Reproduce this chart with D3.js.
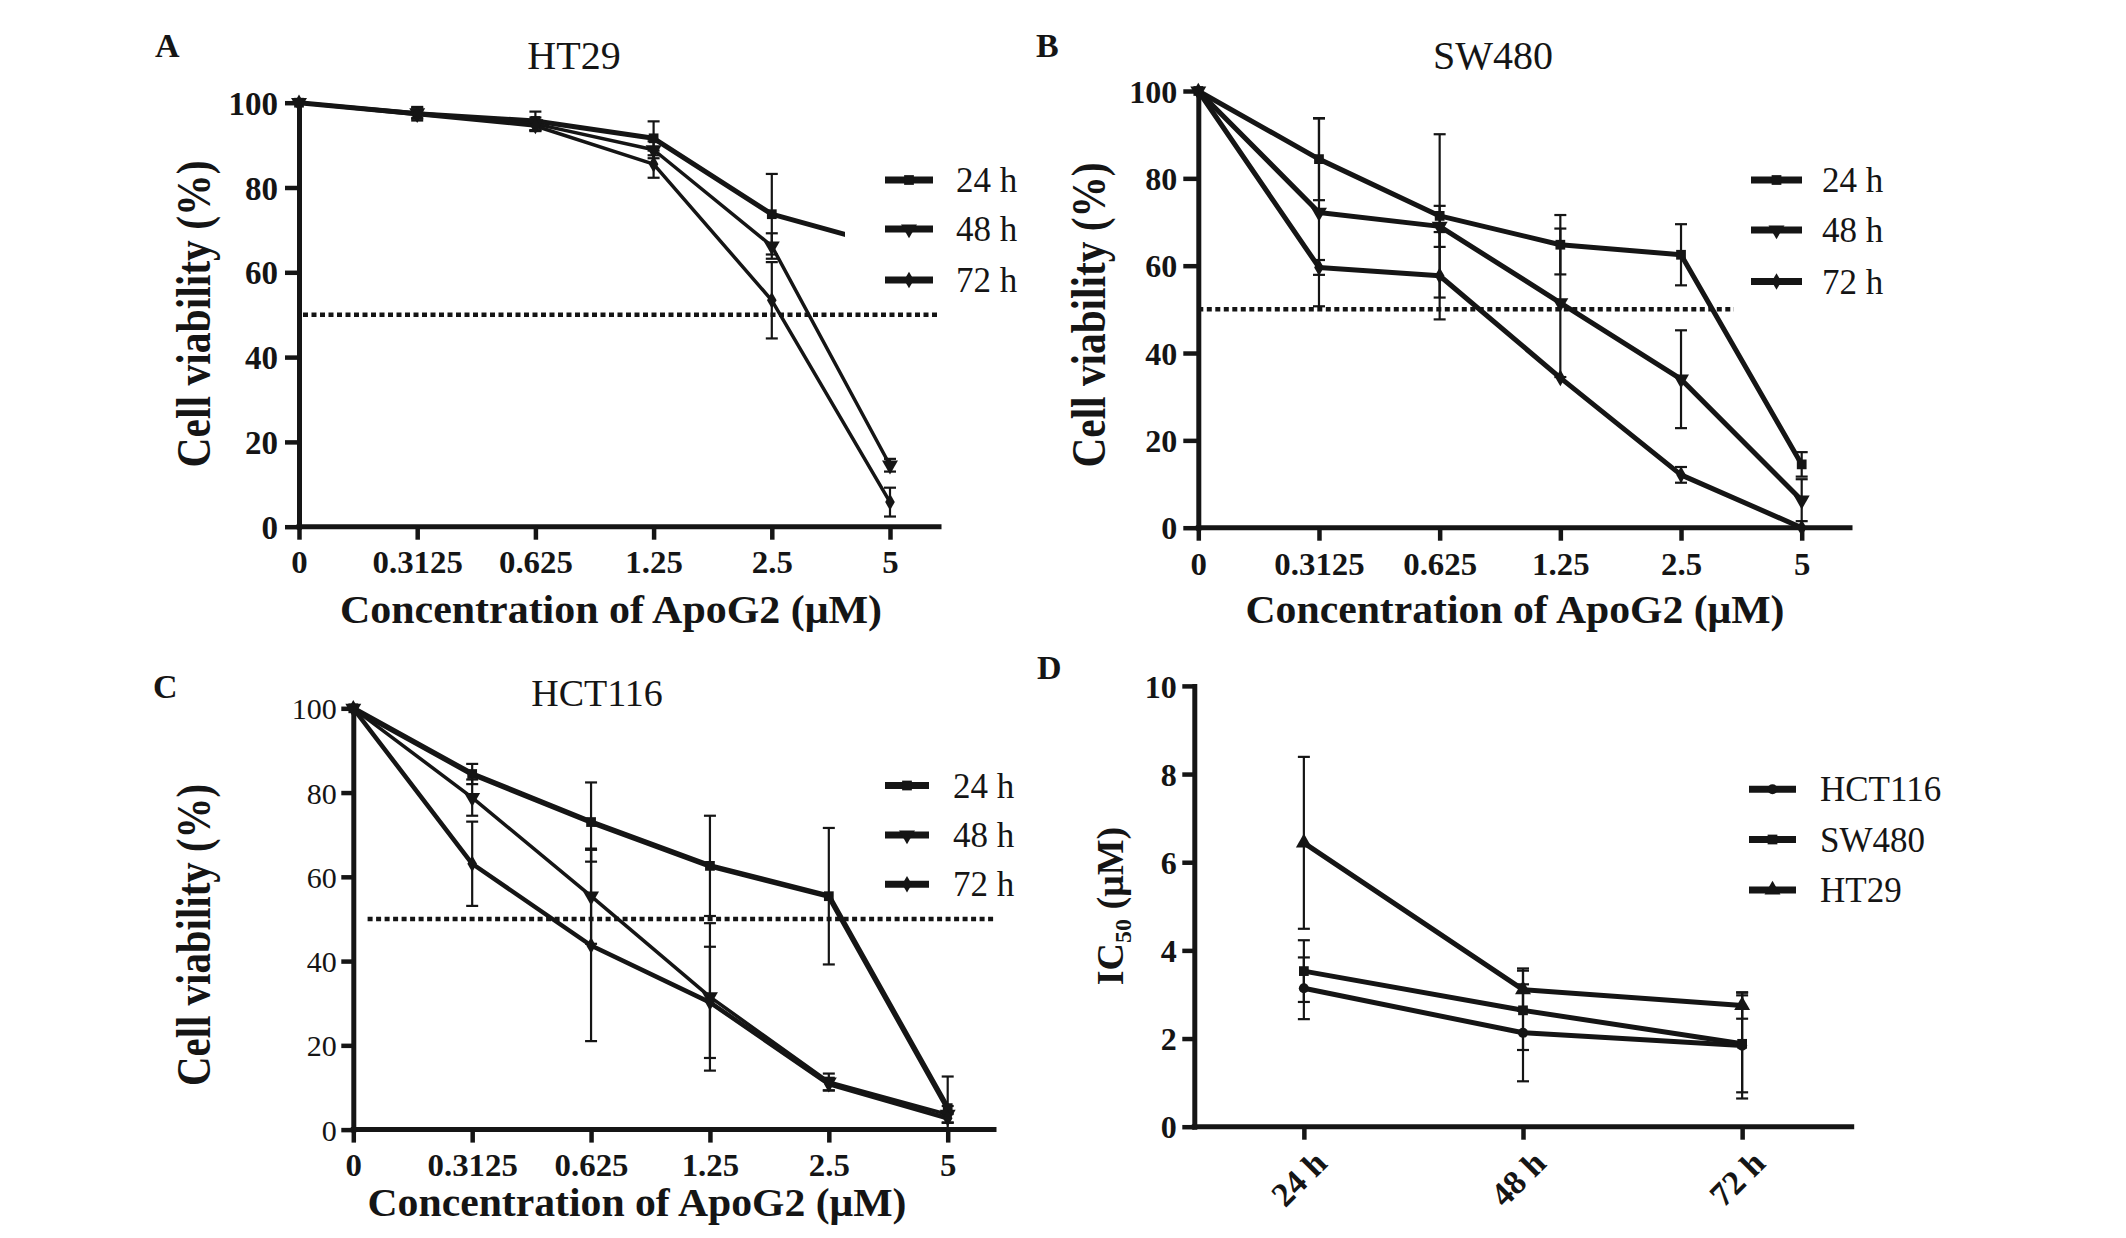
<!DOCTYPE html>
<html lang="en">
<head>
<meta charset="utf-8">
<title>ApoG2 viability and IC50</title>
<script src="https://cdn.jsdelivr.net/npm/d3@7"></script>
<style>
  body { margin: 0; background: #fff; }
  svg text { font-family: "Liberation Serif", "Times New Roman", serif; fill: #151515; }
</style>
</head>
<body>
<svg id="fig" width="2126" height="1238"></svg>
<script>
// categories
const concLabels = ["0", "0.3125", "0.625", "1.25", "2.5", "5"];
const timeLabels = ["24 h", "48 h", "72 h"];
const lineNames = ["HCT116", "SW480", "HT29"];

// A - HT29 viability (%), mean and error
const ht29_24 = [100, 97.4, 95.7, 91.6, 73.7, 66.0];
const ht29_24Err = [0, 1.6, 2.2, 4.0, 9.5, 2.0];
const ht29_48 = [100, 97.6, 95.0, 88.9, 66.2, 14.5];
const ht29_48Err = [0, 1.2, 1.5, 2.0, 3.0, 1.5];
const ht29_72 = [100, 97.2, 94.5, 85.5, 53.4, 5.8];
const ht29_72Err = [0, 1.0, 1.2, 3.2, 9.0, 3.4];

// B - SW480
const sw480_24 = [100, 84.4, 71.4, 64.8, 62.5, 14.5];
const sw480_24Err = [0, 9.4, 18.7, 6.8, 7.0, 2.8];
const sw480_48 = [100, 72.2, 69.0, 51.5, 34.0, 6.3];
const sw480_48Err = [0, 21.5, 4.7, 17.0, 11.2, 4.8];
const sw480_72 = [100, 59.6, 57.7, 34.3, 12.1, 0];
const sw480_72Err = [0, 1.7, 10.0, 0, 1.8, 0];

// C - HCT116
const hct116_24 = [100, 84.4, 73.0, 62.6, 55.4, 5.1];
const hct116_24Err = [0, 2.4, 9.4, 11.9, 16.2, 7.5];
const hct116_48 = [100, 78.8, 55.4, 31.5, 11.3, 3.6];
const hct116_48Err = [0, 4.3, 11.3, 17.5, 2.0, 2.0];
const hct116_72 = [100, 63.1, 43.7, 30.2, 10.8, 2.7];
const hct116_72Err = [0, 10.0, 22.7, 13.2, 1.5, 1.0];

// D - IC50 (uM) per time point
const ic50_hct116 = [3.14, 2.13, 1.84];
const ic50_hct116Err = [0.7, 1.1, 1.2];
const ic50_sw480 = [3.53, 2.64, 1.88];
const ic50_sw480Err = [0.7, 0.9, 1.1];
const ic50_ht29 = [6.44, 3.11, 2.75];
const ic50_ht29Err = [1.95, 0.48, 0.3];

const halfLine = 50;

const ink = "#151515";
const svg = d3.select("#fig");

// squeeze / widen a text to a given factor of its natural width
function stretch(sel, k) {
  sel.each(function () {
    const w = this.getComputedTextLength();
    d3.select(this).attr("textLength", w * k).attr("lengthAdjust", "spacingAndGlyphs");
  });
}

const shapes = {
  square: { type: d3.symbolSquare, size: 95, rot: 0 },
  down: { type: d3.symbolTriangle, size: 110, rot: 180 },
  up: { type: d3.symbolTriangle, size: 110, rot: 0 },
  diamond: { type: d3.symbolDiamond, size: 80, rot: 0 },
  circle: { type: d3.symbolCircle, size: 80, rot: 0 }
};

function mark(g, shape, cx, cy) {
  const s = shapes[shape];
  g.append("path")
    .attr("d", d3.symbol(s.type, s.size)())
    .attr("transform", `translate(${cx},${cy}) rotate(${s.rot})`)
    .attr("fill", ink);
}

function drawPanel(p) {
  const g = svg.append("g");
  const x = d3.scalePoint(p.cats, p.xRange).padding(p.pad);
  const y = d3.scaleLinear([0, p.yMax], [p.yBase, p.yTop]);

  // 50 % line
  if (p.dot) {
    g.append("line")
      .attr("x1", p.dot[0]).attr("x2", p.dot[1])
      .attr("y1", y(halfLine)).attr("y2", y(halfLine))
      .attr("stroke", ink).attr("stroke-width", 4.5)
      .attr("stroke-dasharray", "5 3.5");
  }

  // error bars
  p.series.forEach(s => {
    s.vals.forEach((v, i) => {
      const e = s.errs[i];
      if (!e) return;
      const cx = x(p.cats[i]);
      const lo = y(Math.max(0, v - e)), hi = y(v + e);
      g.append("line").attr("x1", cx).attr("x2", cx).attr("y1", lo).attr("y2", hi)
        .attr("stroke", ink).attr("stroke-width", 2.2);
      [lo, hi].forEach(yy => g.append("line")
        .attr("x1", cx - 6).attr("x2", cx + 6).attr("y1", yy).attr("y2", yy)
        .attr("stroke", ink).attr("stroke-width", 2.2));
    });
  });

  // lines and markers
  const line = d3.line().x((d, i) => x(p.cats[i])).y(d => y(d));
  p.series.forEach(s => {
    g.append("path").attr("d", line(s.vals))
      .attr("fill", "none").attr("stroke", ink)
      .attr("stroke-width", s.w).attr("stroke-linejoin", "round");
    s.vals.forEach((v, i) => mark(g, s.shape, x(p.cats[i]), y(v)));
  });

  // axes
  const xa = g.append("g").attr("transform", `translate(0,${p.yBase})`)
    .call(d3.axisBottom(x).tickSize(p.xTick).tickSizeOuter(0))
    .attr("font-family", null).attr("font-size", null);
  xa.select(".domain").attr("d", `M${p.axisX},0H${p.xEnd}`);
  const ya = g.append("g").attr("transform", `translate(${p.axisX},0)`)
    .call(d3.axisLeft(y).tickValues(p.yTicks).tickSize(p.yTick).tickSizeOuter(0))
    .attr("font-family", null).attr("font-size", null);

  [xa, ya].forEach(a => {
    a.select(".domain").attr("stroke", ink).attr("stroke-width", 5).attr("stroke-linecap", "square");
    a.selectAll(".tick line").attr("stroke", ink).attr("stroke-width", 4.5);
  });

  ya.selectAll(".tick text")
    .attr("x", p.yLabelX).attr("dy", "0.35em")
    .style("font-size", p.yFont + "px").style("font-weight", p.yWeight).attr("fill", ink);

  const xt = xa.selectAll(".tick text")
    .style("font-size", p.xFont + "px").style("font-weight", "bold").attr("fill", ink);
  if (p.rotateX) {
    xt.attr("text-anchor", "end").attr("dy", "0.35em").attr("y", 0)
      .attr("transform", `translate(${p.rotateX[0]},${p.rotateX[1]}) rotate(-45)`);
  } else {
    xt.attr("dy", null).attr("y", p.xLabelY);
    stretch(xt, 1.06);
  }

  // panel letter and title
  svg.append("text").attr("x", p.letter[1]).attr("y", p.letter[2])
    .style("font-size", "34px").style("font-weight", "bold").text(p.letter[0]);
  if (p.title) {
    svg.append("text").attr("x", p.title[1]).attr("y", p.title[2])
      .attr("text-anchor", "middle").style("font-size", p.title[3] + "px").text(p.title[0]);
  }

  // axis titles
  if (p.yTitle) {
    svg.append("text")
      .attr("transform", `translate(${p.yTitle[0]},${p.yTitle[1]}) rotate(-90)`)
      .attr("text-anchor", "middle").style("font-size", "48px").style("font-weight", "bold")
      .attr("textLength", p.yTitle[2]).attr("lengthAdjust", "spacingAndGlyphs")
      .text("Cell viability (%)");
  }
  if (p.xTitle) {
    svg.append("text").attr("x", p.xTitle[0]).attr("y", p.xTitle[1])
      .attr("text-anchor", "middle").style("font-size", "40px").style("font-weight", "bold")
      .attr("textLength", p.xTitle[2]).attr("lengthAdjust", "spacingAndGlyphs")
      .text("Concentration of ApoG2 (\u03bcM)");
  }

  // legend
  const L = p.legend;
  if (L.bg) {
    g.append("rect").attr("x", L.bg[0]).attr("y", L.bg[1])
      .attr("width", L.bg[2]).attr("height", L.bg[3]).attr("fill", "#fff");
  }
  p.series.forEach((s, i) => {
    const ly = L.ys[i];
    g.append("line").attr("x1", L.x1).attr("x2", L.x2).attr("y1", ly).attr("y2", ly)
      .attr("stroke", ink).attr("stroke-width", 7);
    mark(g, s.shape, (L.x1 + L.x2) / 2, ly);
    g.append("text").attr("x", L.tx).attr("y", ly + 12)
      .style("font-size", "35px").text(s.name);
  });
  return g;
}

drawPanel({
  letter: ["A", 155, 57], title: ["HT29", 574, 69, 40],
  cats: concLabels, xRange: [299, 890], pad: 0, axisX: 299, xEnd: 939,
  yBase: 526.7, yTop: 102.7, yMax: 100, yTicks: [0, 20, 40, 60, 80, 100],
  yTick: 14, yLabelX: -21, yFont: 33, yWeight: "bold",
  xTick: 13, xLabelY: 46.5, xFont: 31,
  dot: [303, 939],
  series: [
    { vals: ht29_24, errs: ht29_24Err, shape: "square", w: 5, name: timeLabels[0] },
    { vals: ht29_48, errs: ht29_48Err, shape: "down", w: 3.5, name: timeLabels[1] },
    { vals: ht29_72, errs: ht29_72Err, shape: "diamond", w: 3.5, name: timeLabels[2] }
  ],
  yTitle: [210, 314, 307], xTitle: [611, 623, 542],
  legend: { x1: 885, x2: 933, ys: [180, 229, 280], tx: 956, bg: [845, 150, 185, 155] }
});

drawPanel({
  letter: ["B", 1036, 57], title: ["SW480", 1493, 69, 40],
  cats: concLabels, xRange: [1198.3, 1801.7], pad: 0, axisX: 1198.3, xEnd: 1850,
  yBase: 527.7, yTop: 91, yMax: 100, yTicks: [0, 20, 40, 60, 80, 100],
  yTick: 15, yLabelX: -21, yFont: 32, yWeight: "bold",
  xTick: 13, xLabelY: 47.5, xFont: 31,
  dot: [1198.3, 1734],
  series: [
    { vals: sw480_24, errs: sw480_24Err, shape: "square", w: 5, name: timeLabels[0] },
    { vals: sw480_48, errs: sw480_48Err, shape: "down", w: 5, name: timeLabels[1] },
    { vals: sw480_72, errs: sw480_72Err, shape: "diamond", w: 5, name: timeLabels[2] }
  ],
  yTitle: [1105, 315, 305], xTitle: [1515, 623, 539],
  legend: { x1: 1751, x2: 1802, ys: [180, 230, 281.5], tx: 1822 }
});

drawPanel({
  letter: ["C", 153, 698], title: ["HCT116", 597, 705.6, 38],
  cats: concLabels, xRange: [353.3, 947.7], pad: 0, axisX: 353.3, xEnd: 994,
  yBase: 1129.6, yTop: 708.3, yMax: 100, yTicks: [0, 20, 40, 60, 80, 100],
  yTick: 12, yLabelX: -16.6, yFont: 30, yWeight: "normal",
  xTick: 13, xLabelY: 46, xFont: 31,
  dot: [367.6, 994],
  series: [
    { vals: hct116_24, errs: hct116_24Err, shape: "square", w: 5.5, name: timeLabels[0] },
    { vals: hct116_48, errs: hct116_48Err, shape: "down", w: 3.5, name: timeLabels[1] },
    { vals: hct116_72, errs: hct116_72Err, shape: "diamond", w: 4.5, name: timeLabels[2] }
  ],
  yTitle: [210, 935, 302], xTitle: [637, 1216, 539],
  legend: { x1: 885, x2: 929, ys: [785.5, 835, 884.3], tx: 953 }
});

drawPanel({
  letter: ["D", 1037, 679], title: null,
  cats: timeLabels, xRange: [1194.3, 1851.7], pad: 0.5, axisX: 1194.3, xEnd: 1851.7,
  yBase: 1126.7, yTop: 685.9, yMax: 10, yTicks: [0, 2, 4, 6, 8, 10],
  yTick: 12, yLabelX: -17.6, yFont: 32, yWeight: "bold",
  xTick: 13, xFont: 34, rotateX: [16, 30],
  dot: null,
  series: [
    { vals: ic50_hct116, errs: ic50_hct116Err, shape: "circle", w: 5, name: lineNames[0] },
    { vals: ic50_sw480, errs: ic50_sw480Err, shape: "square", w: 5, name: lineNames[1] },
    { vals: ic50_ht29, errs: ic50_ht29Err, shape: "up", w: 5, name: lineNames[2] }
  ],
  yTitle: null, xTitle: null,
  legend: { x1: 1749, x2: 1796, ys: [789.3, 839.5, 890], tx: 1820 }
});

// IC50 axis title with subscript
const ic = svg.append("text")
  .attr("transform", "translate(1123,906) rotate(-90)")
  .attr("text-anchor", "middle").style("font-size", "38px").style("font-weight", "bold");
ic.append("tspan").text("IC");
ic.append("tspan").attr("dy", 8).style("font-size", "24px").text("50");
ic.append("tspan").attr("dy", -8).text(" (\u03bcM)");
</script>
</body>
</html>
